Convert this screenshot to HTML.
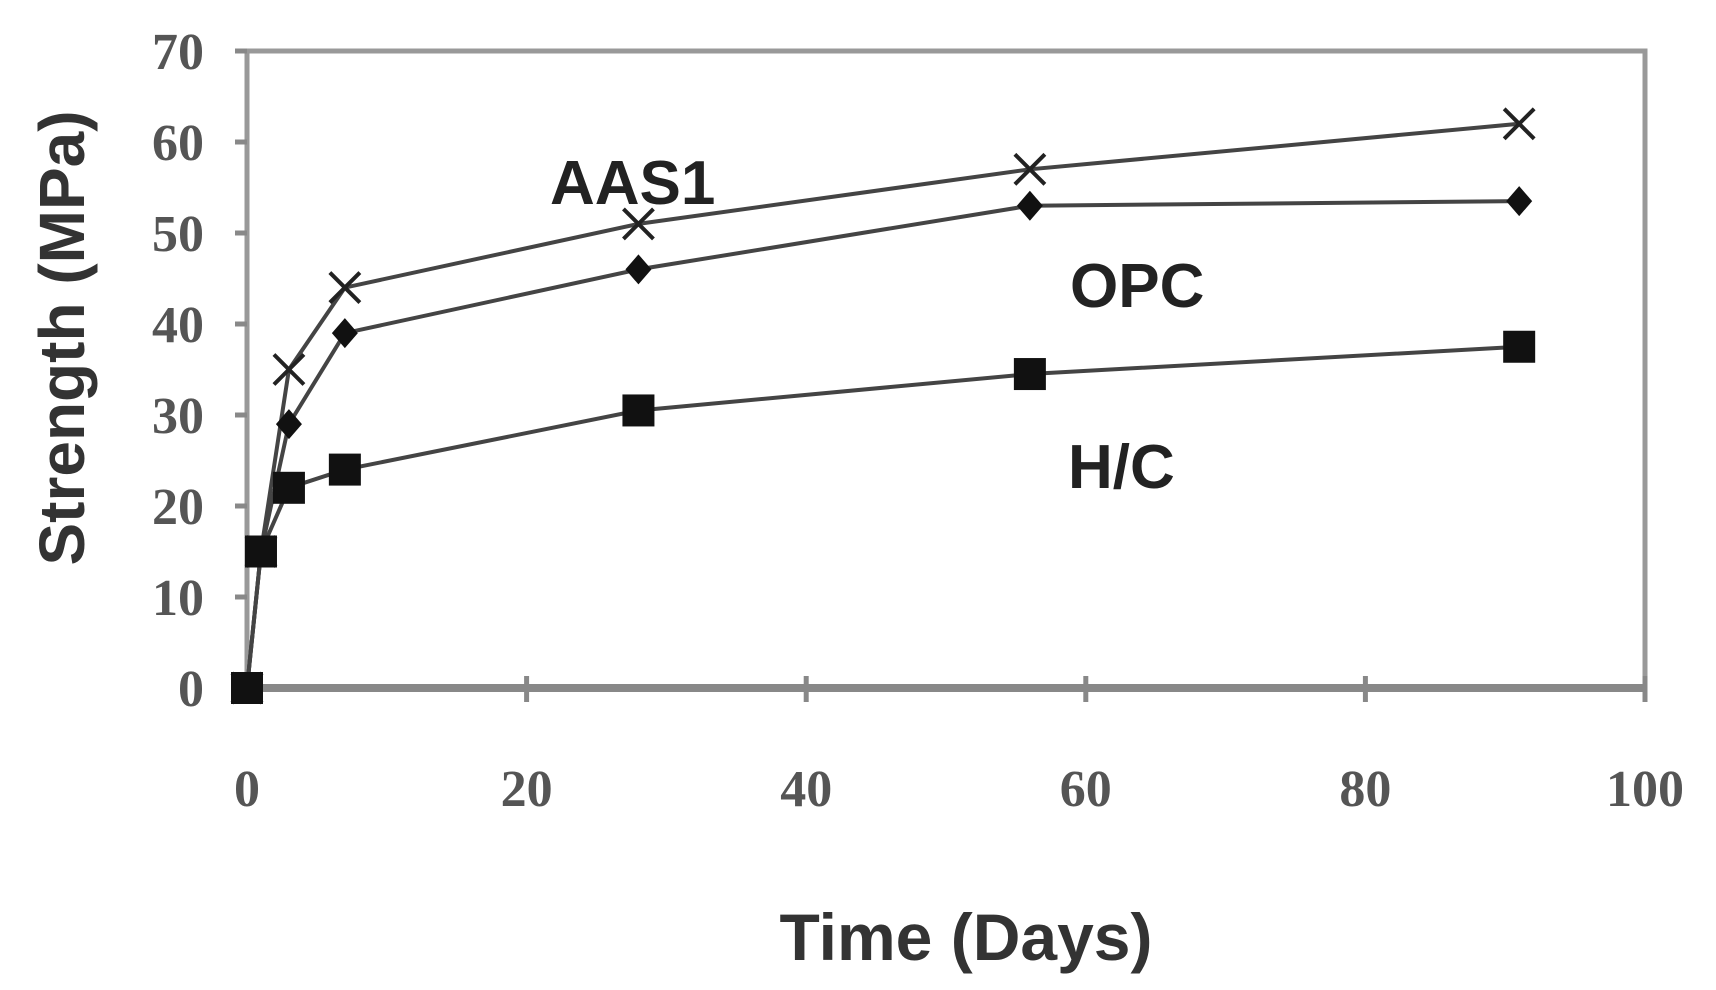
<!DOCTYPE html>
<html><head><meta charset="utf-8"><style>
body{margin:0;background:#fff;}
svg{display:block;}
</style></head><body>
<svg id="chart" width="1716" height="990" viewBox="0 0 1716 990" xmlns="http://www.w3.org/2000/svg">
<rect width="1716" height="990" fill="#fff"/>
<g id="axes"></g>
<g id="series"></g>
<text transform="translate(84,338) rotate(-90)" text-anchor="middle" font-family="Liberation Sans, sans-serif" font-weight="bold" font-size="64" fill="#333">Strength (MPa)</text>
<text x="966" y="960" text-anchor="middle" font-family="Liberation Sans, sans-serif" font-weight="bold" font-size="66" fill="#333">Time (Days)</text>
<text x="550" y="204" font-family="Liberation Sans, sans-serif" font-weight="bold" font-size="62" fill="#222">AAS1</text>
<text x="1070" y="307" font-family="Liberation Sans, sans-serif" font-weight="bold" font-size="62" fill="#222">OPC</text>
<text x="1068" y="488" font-family="Liberation Sans, sans-serif" font-weight="bold" font-size="62" fill="#222">H/C</text>
</svg>
<script>
const days = [0, 1, 3, 7, 28, 56, 91];
const aas1 = [0, 15, 35, 44, 51, 57, 62];
const opc = [0, 15, 29, 39, 46, 53, 53.5];
const hc = [0, 15, 22, 24, 30.5, 34.5, 37.5];
const xTicks = [0, 20, 40, 60, 80, 100];
const yTicks = [0, 10, 20, 30, 40, 50, 60, 70];

const NS = 'http://www.w3.org/2000/svg';
const X0 = 247, X1 = 1645, Y0 = 688, Y1 = 51;
function xs(v){ return X0 + (X1 - X0) * v / 100; }
function ys(v){ return Y0 - (Y0 - Y1) * v / 70; }
function mk(tag, attrs, parent){
  const e = document.createElementNS(NS, tag);
  for (const k in attrs) e.setAttribute(k, attrs[k]);
  parent.appendChild(e);
  return e;
}
const axes = document.getElementById('axes');
const frame = mk('rect', {x: X0, y: Y1, width: X1 - X0, height: Y0 - Y1, fill: 'none', stroke: '#999', 'stroke-width': 5}, axes);


const zl = mk('line', {x1: X0, x2: X1, y1: ys(0), y2: ys(0), stroke: '#888', 'stroke-width': 8}, axes);


yTicks.forEach(t => {
  mk('line', {x1: X0 - 12, x2: X0, y1: ys(t), y2: ys(t), stroke: '#888', 'stroke-width': 5}, axes);
  const tx = mk('text', {x: 204, y: ys(t) + 18, 'text-anchor': 'end', 'font-family': 'Liberation Serif, serif', 'font-weight': 'bold', 'font-size': 52, fill: '#555'}, axes);
  tx.textContent = t;
  
  
});
xTicks.forEach(t => {
  mk('line', {x1: xs(t), x2: xs(t), y1: Y0 - 12, y2: Y0 + 14, stroke: '#888', 'stroke-width': 5}, axes);
  const tx = mk('text', {x: xs(t), y: 806, 'text-anchor': 'middle', 'font-family': 'Liberation Serif, serif', 'font-weight': 'bold', 'font-size': 52, fill: '#555'}, axes);
  tx.textContent = t;
  
  
});
const sg = document.getElementById('series');
function line(vals, name){
  const pts = days.map((d, i) => xs(d) + ',' + ys(vals[i])).join(' ');
  const pl = mk('polyline', {points: pts, fill: 'none', stroke: '#444', 'stroke-width': 4}, sg);
  
  
}
line(aas1, 'line-aas1');
line(opc, 'line-opc');
line(hc, 'line-hc');
days.forEach((d, i) => {
  const x = xs(d);
  let y = ys(aas1[i]);
  const g = mk('path', {d: `M${x-15},${y-15}L${x+15},${y+15}M${x-15},${y+15}L${x+15},${y-15}`, stroke: '#222', 'stroke-width': 4}, sg);
  
  
  y = ys(opc[i]);
  const dm = mk('path', {d: `M${x},${y-15}L${x+13},${y}L${x},${y+15}L${x-13},${y}Z`, fill: '#111'}, sg);
  
  
  y = ys(hc[i]);
  const sq = mk('rect', {x: x - 16, y: y - 16, width: 32, height: 32, fill: '#111'}, sg);
  
  
});
</script>
</body></html>
